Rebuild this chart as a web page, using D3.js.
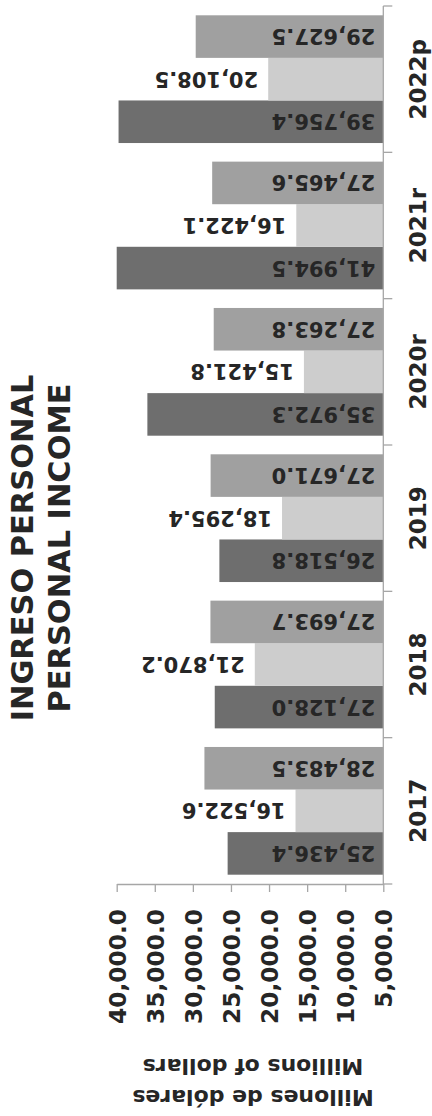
<!DOCTYPE html>
<html>
<head>
<meta charset="utf-8">
<script src="https://cdn.jsdelivr.net/npm/d3@7/dist/d3.min.js"></script>
<style>
  html, body { margin: 0; padding: 0; background: #ffffff; }
  svg { display: block; }
  text { font-family: "DejaVu Sans", sans-serif; font-weight: bold; fill: #262626; }
</style>
</head>
<body>
<div id="chart"></div>
<script>
// ---- data ----
const categories = ["2017", "2018", "2019", "2020r", "2021r", "2022p"];
const seriesKeys = ["darkSeries", "lightSeries", "midSeries"];
const darkSeries  = [25436.4, 27128.0, 26518.8, 35972.3, 41994.5, 39756.4];
const lightSeries = [16522.6, 21870.2, 18295.4, 15421.8, 16422.1, 20108.5];
const midSeries   = [28483.5, 27693.7, 27671.0, 27263.8, 27465.6, 29627.5];
const tickValues  = [5000, 10000, 15000, 20000, 25000, 30000, 35000, 40000];
const titleLines  = ["INGRESO PERSONAL", "PERSONAL INCOME"];
const axisTitleLines = ["Millions of dollars", "Millones de dólares"];

const seriesValues = { darkSeries, lightSeries, midSeries };
const colors = { darkSeries: "#6e6e6e", lightSeries: "#cdcdcd", midSeries: "#a0a0a0" };

const W = 432, H = 1116;
const svg = d3.select("#chart").append("svg").attr("width", W).attr("height", H);

// value axis runs horizontally (rotated chart), higher values to the left
const x = d3.scaleLinear().domain([5000, 40000]).range([383.3, 116.7]).clamp(true);
// categories run vertically, 2017 at the bottom
const y = d3.scaleBand().domain(categories).range([884, 6]);
const gap = 9.3;
const inner = d3.scaleBand().domain(seriesKeys).range([y.bandwidth() - gap, gap]);

const fmt = d3.format(",.1f");

// bars
const rows = [];
categories.forEach((c, i) => {
  seriesKeys.forEach(k => rows.push({ cat: c, key: k, value: seriesValues[k][i] }));
});

svg.append("g").selectAll("rect").data(rows).join("rect")
  .attr("x", d => x(d.value))
  .attr("y", d => y(d.cat) + inner(d.key))
  .attr("width", d => x(5000) - x(d.value))
  .attr("height", inner.bandwidth())
  .attr("fill", d => colors[d.key]);

// bar labels (upside-down)
svg.append("g").selectAll("text").data(rows).join("text")
  .attr("transform", d => {
    const cy = y(d.cat) + inner(d.key) + inner.bandwidth() / 2;
    const px = d.key === "lightSeries" ? x(d.value) - 10 : x(5000) - 8;
    return `translate(${px},${cy}) rotate(180)`;
  })
  .attr("text-anchor", "start")
  .attr("dy", "0.36em")
  .style("font-size", "21px")
  .text(d => fmt(d.value));

// value axis
const axisColor = "#a6a6a6";
const gx = svg.append("g").attr("transform", "translate(0,884)")
  .call(d3.axisBottom(x).tickValues(tickValues).tickSize(8).tickSizeOuter(0).tickFormat(fmt));
gx.select(".domain").attr("stroke", axisColor).attr("stroke-width", 1.3);
gx.selectAll(".tick line").attr("stroke", axisColor).attr("stroke-width", 1.3);
gx.selectAll(".tick text")
  .attr("x", -25).attr("y", 0).attr("dy", "0.36em")
  .attr("transform", "rotate(-90)")
  .attr("text-anchor", "end")
  .style("font-size", "23.3px")
  .style("font-family", "DejaVu Sans, sans-serif")
  .style("font-weight", "bold")
  .attr("fill", "#262626");

// category axis (vertical line at the baseline, ticks between categories)
const gy = svg.append("g");
gy.append("line")
  .attr("x1", x(5000)).attr("x2", x(5000))
  .attr("y1", d3.min(y.range())).attr("y2", d3.max(y.range()))
  .attr("stroke", axisColor).attr("stroke-width", 1.3);
const boundaries = categories.map(c => y(c)).concat([y(categories[0]) + y.bandwidth()]);
gy.selectAll("line.tk").data(boundaries).join("line").attr("class", "tk")
  .attr("x1", x(5000)).attr("x2", x(5000) + 9)
  .attr("y1", d => d).attr("y2", d => d)
  .attr("stroke", axisColor).attr("stroke-width", 1.3);

gy.selectAll("text").data(categories).join("text")
  .attr("transform", c => `translate(425.5,${y(c) + y.bandwidth() / 2}) rotate(-90)`)
  .attr("text-anchor", "middle")
  .style("font-size", "23px")
  .text(c => c);

// title (rotated)
const titleX = [33, 70];
svg.append("g").selectAll("text").data(titleLines).join("text")
  .attr("transform", (t, i) => `translate(${titleX[i]},548) rotate(-90)`)
  .attr("text-anchor", "middle")
  .style("font-size", "30.4px")
  .text(t => t);

// axis title (upside-down)
const axisTitleY = [1067.3, 1097.5];
const axisMid = (x(5000) + x(40000)) / 2 + 3;
svg.append("g").selectAll("text").data(axisTitleLines).join("text")
  .attr("transform", (t, i) => `translate(${axisMid},${axisTitleY[i]}) rotate(180)`)
  .attr("text-anchor", "middle")
  .attr("dy", "0.36em")
  .style("font-size", "22px")
  .text(t => t);
</script>
</body>
</html>
